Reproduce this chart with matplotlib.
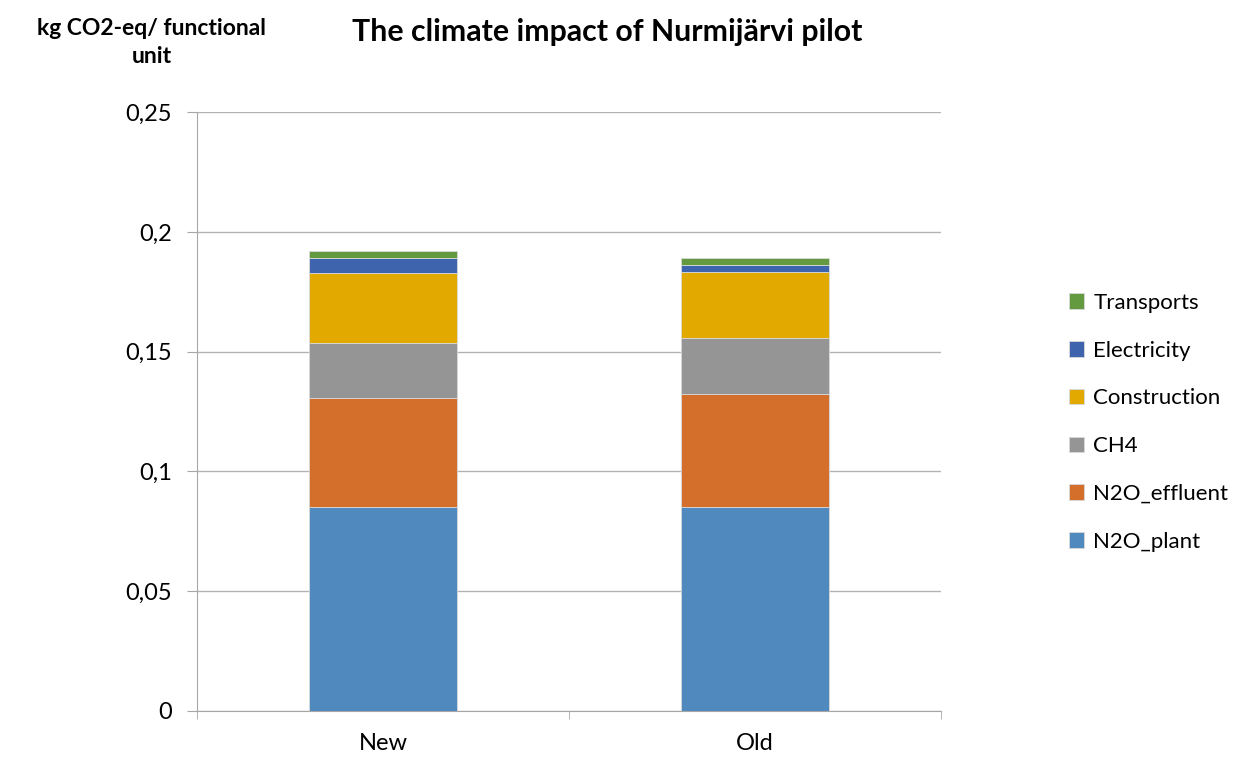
import numpy as np
import matplotlib.pyplot as plt

plt.rcParams['font.family'] = ['Lato', 'DejaVu Sans']

categories = ["New", "Old"]
components = ["N2O_plant", "N2O_effluent", "CH4", "Construction", "Electricity", "Transports"]
n2o_plant = [0.0849, 0.0849]
n2o_effluent = [0.0458, 0.0474]
ch4 = [0.0228, 0.0233]
construction = [0.0293, 0.0275]
electricity = [0.0061, 0.0032]
transports = [0.0031, 0.0029]
colors = ["#4F89BD", "#D36F2B", "#959595", "#E2AA00", "#3D64AC", "#639A3F"]

series = [n2o_plant, n2o_effluent, ch4, construction, electricity, transports]

fig = plt.figure(figsize=(12.44, 7.58), dpi=100)
ax = fig.add_axes([0.1584, 0.0624, 0.598, 0.7896])

x = np.arange(len(categories))
bottom = np.zeros(len(categories))
handles = []
for name, vals, c in zip(components, series, colors):
    h = ax.bar(x, vals, width=0.4, bottom=bottom, color=c, label=name,
               edgecolor="#D9D9D9", linewidth=0.6, zorder=3)
    handles.append(h)
    bottom += np.array(vals)

ax.set_xlim(-0.5, 1.5)
ax.set_ylim(0, 0.25)
ax.set_yticks(np.arange(0, 0.2501, 0.05))
ax.set_yticklabels(["0", "0,05", "0,1", "0,15", "0,2", "0,25"], fontsize=17)
ax.set_xticks(x)
ax.set_xticklabels(categories, fontsize=17)
ax.set_xticks([-0.5, 0.5, 1.5], minor=True)
ax.tick_params(axis="x", which="major", length=0, pad=16)
ax.tick_params(axis="x", which="minor", length=6, color="#A6A6A6")
ax.tick_params(axis="y", length=7, color="#A6A6A6", pad=11)
ax.grid(axis="y", color="#B3B3B3", linewidth=1, zorder=0)

for s in ["top", "right"]:
    ax.spines[s].set_visible(False)
for s in ["left", "bottom"]:
    ax.spines[s].set_color("#A6A6A6")

fig.text(0.122, 0.944, "kg CO2-eq/ functional\nunit", ha="center", va="center",
         fontsize=16.5, fontweight="bold", linespacing=1.45)
fig.text(0.488, 0.958, "The climate impact of Nurmijärvi pilot", ha="center", va="center",
         fontsize=21.8, fontweight="bold")

leg = fig.legend(handles[::-1], components[::-1], loc="center left",
                 bbox_to_anchor=(0.843, 0.443), frameon=False, fontsize=16,
                 handlelength=0.7, handleheight=0.7, handletextpad=0.4,
                 labelspacing=1.25)

fig.savefig("out.png", dpi=100)
